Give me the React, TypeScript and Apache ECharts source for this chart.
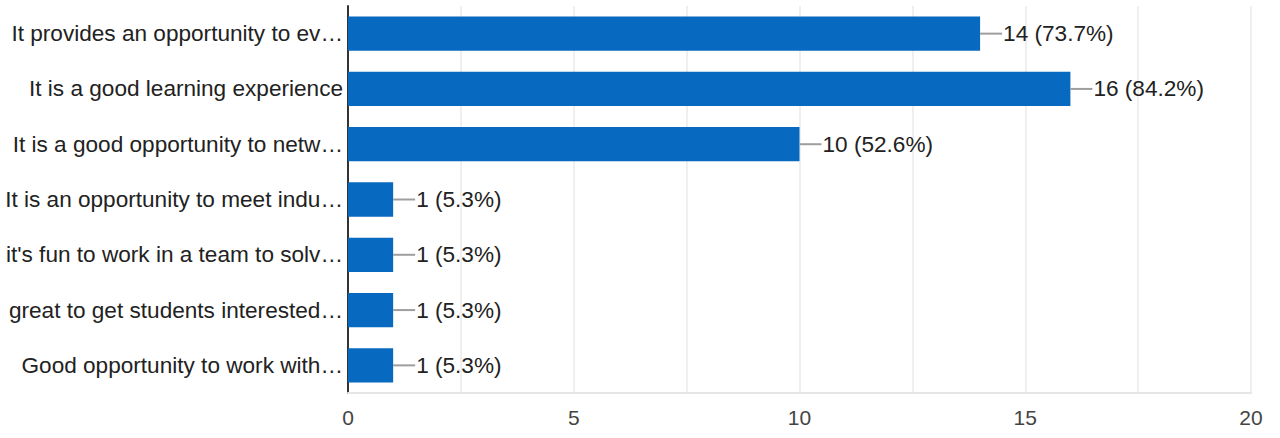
import React, { useEffect, useRef } from "react";
import * as echarts from "echarts";

const categories = [
  "It provides an opportunity to ev…",
  "It is a good learning experience",
  "It is a good opportunity to netw…",
  "It is an opportunity to meet indu…",
  "it's fun to work in a team to solv…",
  "great to get students interested…",
  "Good opportunity to work with…",
];
const counts = [14, 16, 10, 1, 1, 1, 1];
const percents = ["73.7%", "84.2%", "52.6%", "5.3%", "5.3%", "5.3%", "5.3%"];
const xTicks = [0, 5, 10, 15, 20];

export default function App() {
  const ref = useRef<HTMLDivElement>(null);
  useEffect(() => {
    if (!ref.current) return;
    const chart = echarts.init(ref.current, null, { renderer: "svg" });
    const font = "'Liberation Sans', Arial, sans-serif";
    chart.setOption({
      animation: false,
      grid: { left: 348, right: 29, top: 6, bottom: 45, containLabel: false },
      xAxis: {
        type: "value",
        min: 0,
        max: 20,
        interval: 2.5,
        axisLine: { show: true, lineStyle: { color: "#e6e6e6", width: 2 } },
        axisTick: { show: false },
        splitLine: { show: true, lineStyle: { color: "#efefef", width: 2 } },
        axisLabel: {
          color: "#444",
          fontSize: 21,
          fontFamily: font,
          margin: 14,
          formatter: (v: number) => (xTicks.includes(v) ? String(v) : ""),
        },
      },
      yAxis: {
        type: "category",
        data: categories,
        inverse: true,
        axisLine: { show: true, lineStyle: { color: "#333", width: 2 } },
        axisTick: { show: false },
        axisLabel: { color: "#222", fontSize: 22.6, fontFamily: font, margin: 5 },
      },
      series: [
        {
          type: "bar",
          data: counts,
          barCategoryGap: "38%",
          itemStyle: { color: "#0769BF" },
        },
        {
          type: "custom",
          data: counts.map((c, i) => [c, i]),
          z: 5,
          renderItem: (params: any, api: any) => {
            const v = api.value(0);
            const idx = api.value(1);
            const p = api.coord([v, idx]);
            return {
              type: "group",
              children: [
                {
                  type: "line",
                  shape: { x1: p[0], y1: p[1], x2: p[0] + 22, y2: p[1] },
                  style: { stroke: "#9e9e9e", lineWidth: 2 },
                },
                {
                  type: "text",
                  x: p[0] + 23,
                  y: p[1],
                  style: {
                    text: `${counts[idx]} (${percents[idx]})`,
                    fill: "#222",
                    fontSize: 22.6,
                    fontFamily: font,
                    verticalAlign: "middle",
                    align: "left",
                  },
                },
              ],
            };
          },
        },
      ],
    });
    return () => chart.dispose();
  }, []);
  return (
    <div
      ref={ref}
      style={{ position: "fixed", left: 0, top: 0, width: 1280, height: 438, background: "#fff" }}
    />
  );
}
